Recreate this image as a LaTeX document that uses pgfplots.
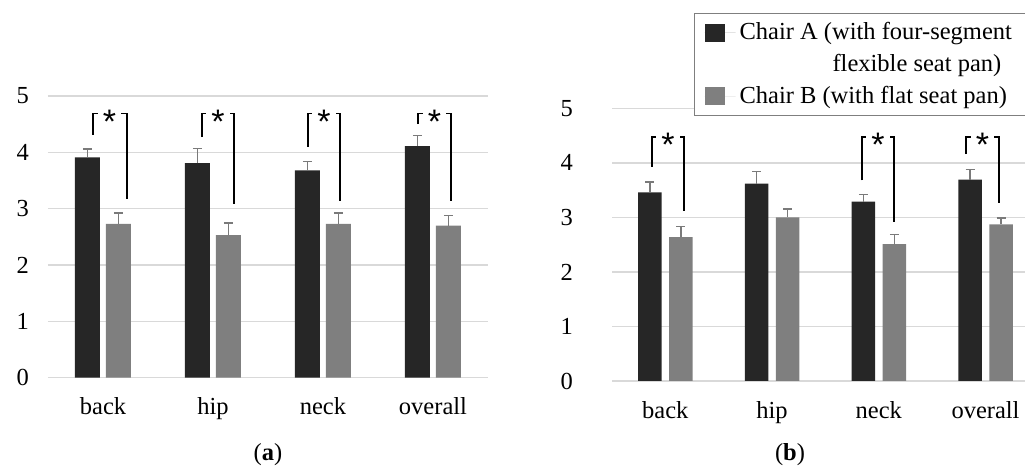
\documentclass[border=0pt]{standalone}
\usepackage{pgfplots}
\usepackage{pgfplotstable}
\pgfplotsset{compat=1.18}
\usepackage{fontspec}
\setmainfont{Liberation Serif}
\newfontfamily\starfont{Liberation Sans}
\definecolor{chairA}{HTML}{262626}
\definecolor{chairB}{HTML}{7F7F7F}
\definecolor{errc}{HTML}{7A7A7A}
\definecolor{gridc}{HTML}{D9D9D9}

\pgfplotstableread{
x a aerr b berr
0 3.91 0.15 2.73 0.19
1 3.81 0.26 2.53 0.22
2 3.68 0.16 2.73 0.19
3 4.11 0.19 2.70 0.18
}\lefttab
\pgfplotstableread{
x a aerr b berr
0 3.46 0.19 2.64 0.19
1 3.62 0.22 3.00 0.15
2 3.29 0.13 2.51 0.18
3 3.69 0.19 2.87 0.12
}\righttab

\newcommand{\sig}[6]{%
  \draw[line width=0.9pt] (axis cs:#1,#4) |- (axis cs:#3,#6) -- (axis cs:#3,#5);
  \node[fill=white, inner xsep=2.5pt, inner ysep=0pt, font=\starfont\fontsize{17}{17}\selectfont, anchor=base, yshift=-9.8pt] at (axis cs:#2,#6) {*};
}

\pgfplotsset{
  legimg/.style={legend image code/.code={\fill[##1] (0pt,-4.5pt) rectangle (10pt,4.5pt); \path (0pt,0pt) -- (15.5pt,0pt);}},
  chartstyle/.style={
  scale only axis, ymin=0, ymax=5, ytick={0,1,2,3,4,5},
  xtick={0,1,2,3}, xticklabels={back,hip,neck,overall},
  axis line style={draw=none}, major tick length=0pt,
  ymajorgrids, grid style={gridc, line width=0.7pt},
  ybar, clip=false,
  ticklabel style={font=\fontsize{12.25}{14}\selectfont},
  /pgf/number format/assume math mode=true,
  yticklabel style={xshift=-6pt},
  xticklabel style={yshift=-6.5pt},
  error bars/y dir=plus, error bars/y explicit,
  error bars/error bar style={errc, line width=0.75pt},
  error bars/error mark options={errc, line width=0.75pt, mark size=2.25pt, rotate=90},
}}

\begin{document}
\begin{tikzpicture}
\path[use as bounding box] (0,0) rectangle (512.5pt,235pt);
\begin{axis}[chartstyle, at={(24pt,46.15pt)}, anchor=south west,
  width=220pt, height=140.85pt, xmin=-0.5, xmax=3.5, bar width=12.5pt]
\addplot[fill=chairA, draw=none, bar shift=-7.75pt] table[x=x, y=a, y error=aerr] {\lefttab};
\addplot[fill=chairB, draw=none, bar shift=7.75pt] table[x=x, y=b, y error=berr] {\lefttab};
\sig{-0.094}{0.06}{0.215}{4.31}{3.18}{4.69}
\sig{0.9}{1.045}{1.19}{4.27}{3.08}{4.69}
\sig{1.864}{2.01}{2.155}{4.10}{3.14}{4.69}
\sig{2.864}{3.014}{3.164}{4.50}{3.14}{4.69}
\end{axis}
\begin{axis}[chartstyle, at={(306pt,44.5pt)}, anchor=south west,
  width=206.5pt, height=136.35pt, xmin=-0.5, xmax=3.37, bar width=11.75pt,
  yticklabel style={xshift=-10pt},
  legend style={at={(rel axis cs:0.1985,1.35)}, anchor=north west, draw=chairB, line width=0.6pt,
    fill=white, font=\fontsize{12.25}{15}\selectfont, nodes={inner ysep=1pt},
    inner xsep=5pt, inner ysep=3.5pt, row sep=3.8pt},
  legend cell align=left]
\addplot[fill=chairA, draw=none, bar shift=-7.75pt, legimg]
  table[x=x, y=a, y error=aerr] {\righttab};
\addlegendentry{Chair A (with four-segment}
\addlegendimage{empty legend}
\addlegendentry{\hspace*{46.5pt}flexible seat pan)}
\addplot[fill=chairB, draw=none, bar shift=7.75pt, legimg]
  table[x=x, y=b, y error=berr] {\righttab};
\addlegendentry{Chair B (with flat seat pan)}
\sig{-0.128}{0.024}{0.175}{3.93}{3.12}{4.48}
\sig{1.841}{1.992}{2.143}{3.68}{2.92}{4.48}
\sig{2.819}{2.972}{3.125}{4.16}{3.26}{4.48}
\end{axis}
\node[font=\fontsize{12.25}{14}\selectfont] at (134pt,7.5pt) {(\textbf{a})};
\node[font=\fontsize{12.25}{14}\selectfont] at (395pt,7.5pt) {(\textbf{b})};
\end{tikzpicture}
\end{document}
